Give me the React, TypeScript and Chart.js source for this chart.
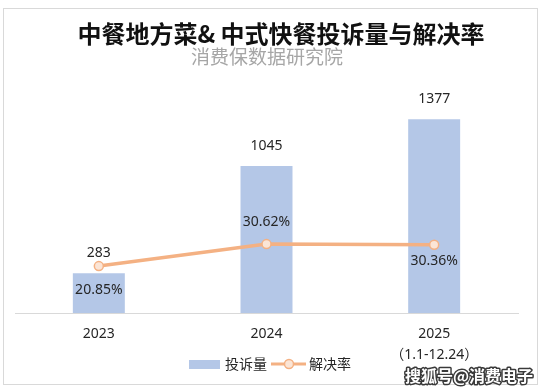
import React, { useEffect, useRef } from 'react';
import { Chart, registerables } from 'chart.js';

Chart.register(...registerables);

const categories: string[][] = [['2023'], ['2024'], ['2025', '（1.1-12.24）']];
const complaints: number[] = [283, 1045, 1377];
const resolveRate: number[] = [20.85, 30.62, 30.36];
const seriesNames: string[] = ['投诉量', '解决率'];
const titleText = '中餐地方菜& 中式快餐投诉量与解决率';
const subtitleText = '消费保数据研究院';
const watermarkText = '搜狐号@消费电子';

const BAR_COLOR = '#b4c7e7';
const LINE_COLOR = '#f4b183';
const POINT_FILL = '#fbe5d6';
const TEXT_COLOR = '#262626';
const FONT = '"Noto Sans", "Noto Sans CJK SC", sans-serif';
const CJK = '"Noto Sans CJK SC", sans-serif';
// label placement for the rate series (style only)
const rateLabelOffsets = [24, -22, 16];

const decorPlugin = {
  id: 'decor',
  beforeDraw(chart: any) {
    const ctx = chart.ctx as CanvasRenderingContext2D;
    ctx.save();
    ctx.fillStyle = '#ffffff';
    ctx.fillRect(0, 0, chart.width, chart.height);
    ctx.strokeStyle = '#d9d9d9';
    ctx.lineWidth = 1;
    ctx.strokeRect(3.5, 8.5, 534, 376);
    ctx.textAlign = 'center';
    ctx.textBaseline = 'middle';
    ctx.font = `bold 24px ${CJK}`;
    ctx.fillStyle = '#111111';
    ctx.fillText(titleText, 281, 34);
    ctx.font = `19px ${CJK}`;
    ctx.fillStyle = '#a6a6a6';
    ctx.fillText(subtitleText, 267, 57);
    ctx.restore();
  },
  afterDatasetsDraw(chart: any) {
    const ctx = chart.ctx as CanvasRenderingContext2D;
    ctx.save();
    ctx.textAlign = 'center';
    ctx.textBaseline = 'middle';
    ctx.font = `14px ${FONT}`;
    ctx.fillStyle = TEXT_COLOR;
    const barMeta = chart.getDatasetMeta(0);
    barMeta.data.forEach((el: any, i: number) => {
      ctx.fillText(String(complaints[i]), el.x, el.y - 20);
    });
    const lineMeta = chart.getDatasetMeta(1);
    lineMeta.data.forEach((el: any, i: number) => {
      ctx.fillText(resolveRate[i].toFixed(2) + '%', el.x, el.y + rateLabelOffsets[i]);
    });
    ctx.restore();
  },
  afterDraw(chart: any) {
    const ctx = chart.ctx as CanvasRenderingContext2D;
    ctx.save();
    // legend
    const ly = 364;
    ctx.fillStyle = BAR_COLOR;
    ctx.fillRect(189, ly - 4, 31, 9);
    ctx.font = `14px ${CJK}`;
    ctx.fillStyle = TEXT_COLOR;
    ctx.textAlign = 'left';
    ctx.textBaseline = 'middle';
    ctx.fillText(seriesNames[0], 225, ly);
    ctx.strokeStyle = LINE_COLOR;
    ctx.lineWidth = 3;
    ctx.beginPath();
    ctx.moveTo(271, ly);
    ctx.lineTo(306, ly);
    ctx.stroke();
    ctx.beginPath();
    ctx.arc(289, ly, 4.5, 0, Math.PI * 2);
    ctx.fillStyle = POINT_FILL;
    ctx.fill();
    ctx.lineWidth = 1.5;
    ctx.stroke();
    ctx.fillStyle = TEXT_COLOR;
    ctx.fillText(seriesNames[1], 309, ly);
    // watermark
    ctx.font = `bold 16px ${CJK}`;
    ctx.textAlign = 'center';
    ctx.lineJoin = 'round';
    ctx.lineWidth = 3;
    ctx.strokeStyle = '#3a3a3a';
    ctx.strokeText(watermarkText, 469, 376);
    ctx.fillStyle = '#ffffff';
    ctx.fillText(watermarkText, 469, 376);
    ctx.restore();
  },
};

export default function App() {
  const canvasRef = useRef<HTMLCanvasElement>(null);

  useEffect(() => {
    if (!canvasRef.current) return;
    const chart = new Chart(canvasRef.current, {
      type: 'bar',
      data: {
        labels: categories,
        datasets: [
          {
            type: 'bar',
            label: seriesNames[0],
            data: complaints,
            backgroundColor: BAR_COLOR,
            yAxisID: 'y',
            barPercentage: 0.31,
            categoryPercentage: 1,
            order: 1,
          },
          {
            type: 'line',
            label: seriesNames[1],
            data: resolveRate,
            borderColor: LINE_COLOR,
            borderWidth: 3.5,
            pointRadius: 4.5,
            pointBackgroundColor: POINT_FILL,
            pointBorderColor: LINE_COLOR,
            pointBorderWidth: 1.5,
            tension: 0,
            yAxisID: 'y1',
            order: 0,
          },
        ],
      } as any,
      options: {
        responsive: false,
        animation: false,
        layout: { padding: { top: 88, left: 15, right: 26, bottom: 12 } },
        plugins: {
          legend: { display: false },
          title: { display: false },
          tooltip: { enabled: false },
        },
        scales: {
          x: {
            grid: { display: false, drawTicks: false },
            border: { display: true, color: '#d9d9d9', width: 1 },
            ticks: {
              color: TEXT_COLOR,
              font: { family: FONT, size: 14, lineHeight: 1.5 },
              padding: 11,
              maxRotation: 0,
            },
            afterFit(scale: any) {
              scale.height = 65;
            },
          },
          y: { display: false, min: 0, max: 1600 },
          y1: { display: false, min: 0, max: 100, position: 'right' },
        },
      } as any,
      plugins: [decorPlugin],
    });
    return () => chart.destroy();
  }, []);

  return (
    <div style={{ position: 'absolute', left: 0, top: 0, width: 544, height: 390 }}>
      <canvas ref={canvasRef} width={544} height={390} />
    </div>
  );
}
